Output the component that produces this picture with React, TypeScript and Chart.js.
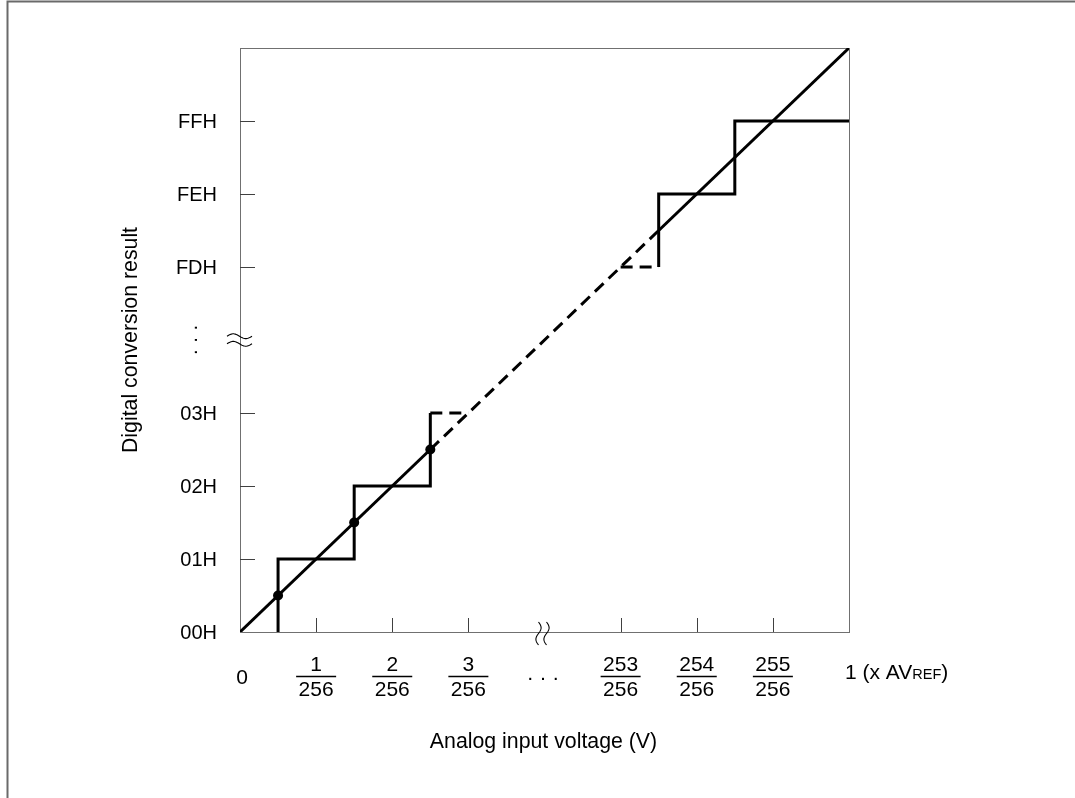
import React, { useEffect, useRef } from 'react';
import { Chart, registerables } from 'chart.js';

Chart.register(...registerables);

// ---- data (axis units: one step per code / per 1/256 of AVREF) ----
const xTickValues = [1, 2, 3, 5, 6, 7];
const xTickNumerators = ['1', '2', '3', '253', '254', '255'];
const xTickDenominator = '256';
const xZeroLabel = '0';
const xEndLabelMain = '1 (x AV';
const xEndLabelSub = 'REF';
const yTickValues = [0, 1, 2, 3, 5, 6, 7];
const yTickLabels = ['00H', '01H', '02H', '03H', 'FDH', 'FEH', 'FFH'];
const breakValue = 4;
const axisMin = 0;
const axisMax = 8;

const idealLowX = [0, 2.5];
const idealLowY = [0, 2.5];
const idealMidX = [2.5, 5.5];
const idealMidY = [2.5, 5.5];
const idealHighX = [5.5, 8];
const idealHighY = [5.5, 8];

const stepLowX = [0.5, 0.5, 1.5, 1.5, 2.5, 2.5];
const stepLowY = [0, 1, 1, 2, 2, 3];
const stepLowDashX = [2.5, 3];
const stepLowDashY = [3, 3];
const stepHighDashX = [5, 5.5];
const stepHighDashY = [5, 5];
const stepHighX = [5.5, 5.5, 6.5, 6.5, 8];
const stepHighY = [5, 6, 6, 7, 7];

const transitionX = [0.5, 1.5, 2.5];
const transitionY = [0.5, 1.5, 2.5];

const xTitle = 'Analog input voltage (V)';
const yTitle = 'Digital conversion result';

const FONT = '"Liberation Sans", Arial, Helvetica, sans-serif';
const INK = '#000000';
const FRAME = '#707070';

const pts = (xs: number[], ys: number[]) => xs.map((x, i) => ({ x, y: ys[i] }));

const lineDs = (xs: number[], ys: number[], dashed: boolean) => ({
  data: pts(xs, ys),
  showLine: true,
  borderColor: INK,
  backgroundColor: INK,
  borderWidth: 3,
  borderDash: dashed ? [12, 7] : [],
  borderCapStyle: 'butt' as const,
  borderJoinStyle: 'miter' as const,
  pointRadius: 0,
  pointHoverRadius: 0,
  tension: 0,
  fill: false,
});

const decorPlugin = {
  id: 'decor',
  beforeDraw(chart: any) {
    const ctx = chart.ctx;
    ctx.save();
    ctx.fillStyle = '#ffffff';
    ctx.fillRect(0, 0, chart.width, chart.height);
    // outer figure border (top and left)
    ctx.strokeStyle = '#6a6a6a';
    ctx.lineWidth = 2;
    ctx.beginPath();
    ctx.moveTo(chart.width + 2, 1.5);
    ctx.lineTo(7.5, 1.5);
    ctx.lineTo(7.5, chart.height + 2);
    ctx.stroke();
    ctx.restore();
  },
  beforeDatasetsDraw(chart: any) {
    const ctx = chart.ctx;
    const { left, right, top, bottom } = chart.chartArea;
    const xs = chart.scales.x;
    const ys = chart.scales.y;
    ctx.save();
    ctx.strokeStyle = FRAME;
    ctx.lineWidth = 1;
    ctx.strokeRect(Math.round(left) + 0.5, Math.round(top) + 0.5, Math.round(right - left), Math.round(bottom - top));
    // inward tick marks
    ctx.strokeStyle = '#404040';
    ctx.beginPath();
    xTickValues.forEach((v) => {
      const px = Math.round(xs.getPixelForValue(v)) + 0.5;
      ctx.moveTo(px, bottom);
      ctx.lineTo(px, bottom - 14);
    });
    yTickValues.forEach((v) => {
      if (v === axisMin) return;
      const py = Math.round(ys.getPixelForValue(v)) + 0.5;
      ctx.moveTo(left, py);
      ctx.lineTo(left + 15, py);
    });
    ctx.stroke();

    // axis break marks
    ctx.strokeStyle = INK;
    ctx.lineWidth = 1.1;
    const bx = xs.getPixelForValue(breakValue) - 2;
    [-4, 4].forEach((off) => {
      ctx.beginPath();
      for (let i = 0; i <= 30; i++) {
        const t = i / 30;
        const x = bx + off + 2.6 * Math.sin(2 * Math.PI * t);
        const y = bottom - 10 + 23 * t;
        if (i === 0) ctx.moveTo(x, y);
        else ctx.lineTo(x, y);
      }
      ctx.stroke();
    });
    const by = ys.getPixelForValue(breakValue);
    [-3.8, 3.8].forEach((off) => {
      ctx.beginPath();
      for (let i = 0; i <= 30; i++) {
        const t = i / 30;
        const x = left - 13 + 25 * t;
        const y = by + off - 2.4 * Math.sin(2 * Math.PI * t);
        if (i === 0) ctx.moveTo(x, y);
        else ctx.lineTo(x, y);
      }
      ctx.stroke();
    });
    ctx.restore();
  },
  afterDraw(chart: any) {
    const ctx = chart.ctx;
    const { left, right, top, bottom } = chart.chartArea;
    const xs = chart.scales.x;
    const ys = chart.scales.y;
    ctx.save();
    ctx.fillStyle = INK;
    ctx.strokeStyle = INK;

    // y tick labels
    ctx.font = `20px ${FONT}`;
    ctx.textAlign = 'right';
    ctx.textBaseline = 'middle';
    yTickValues.forEach((v, i) => {
      ctx.fillText(yTickLabels[i], left - 23, ys.getPixelForValue(v) + 1);
    });
    // vertical ellipsis at y break
    ctx.save();
    ctx.translate(left - 45, ys.getPixelForValue(breakValue));
    ctx.rotate(-Math.PI / 2);
    ctx.textAlign = 'center';
    ctx.fillText('· · ·', 0, 0);
    ctx.restore();

    // x tick labels
    const labelY = bottom + 46;
    ctx.textAlign = 'center';
    ctx.font = `21px ${FONT}`;
    ctx.fillText(xZeroLabel, xs.getPixelForValue(axisMin) + 2, labelY);
    xTickValues.forEach((v, i) => {
      const px = xs.getPixelForValue(v);
      ctx.fillText(xTickNumerators[i], px, labelY - 13);
      ctx.fillText(xTickDenominator, px, labelY + 12);
      ctx.lineWidth = 1.5;
      ctx.beginPath();
      ctx.moveTo(px - 20, labelY - 1.5);
      ctx.lineTo(px + 20, labelY - 1.5);
      ctx.stroke();
    });
    ctx.fillText('· · ·', xs.getPixelForValue(breakValue) - 1.5, labelY);

    // end label "1 (x AVREF)"
    ctx.textAlign = 'left';
    ctx.textBaseline = 'alphabetic';
    const endX = xs.getPixelForValue(axisMax) - 4;
    const base = bottom + 47;
    ctx.font = `21px ${FONT}`;
    ctx.fillText(xEndLabelMain, endX, base);
    let w = ctx.measureText(xEndLabelMain).width;
    ctx.font = `14.5px ${FONT}`;
    ctx.fillText(xEndLabelSub, endX + w, base);
    w += ctx.measureText(xEndLabelSub).width;
    ctx.font = `21px ${FONT}`;
    ctx.fillText(')', endX + w, base);

    // axis titles
    ctx.font = `21.3px ${FONT}`;
    ctx.textAlign = 'center';
    ctx.textBaseline = 'middle';
    ctx.fillText(xTitle, (left + right) / 2 - 1, bottom + 110);
    ctx.save();
    ctx.translate(131, (top + bottom) / 2);
    ctx.rotate(-Math.PI / 2);
    ctx.fillText(yTitle, 0, 0);
    ctx.restore();

    ctx.restore();
  },
};

export default function App() {
  const ref = useRef<HTMLCanvasElement | null>(null);
  useEffect(() => {
    if (!ref.current) return;
    const chart = new Chart(ref.current, {
      type: 'scatter',
      data: {
        datasets: [
          lineDs(idealLowX, idealLowY, false),
          lineDs(idealMidX, idealMidY, true),
          lineDs(idealHighX, idealHighY, false),
          lineDs(stepLowX, stepLowY, false),
          lineDs(stepLowDashX, stepLowDashY, true),
          lineDs(stepHighDashX, stepHighDashY, true),
          lineDs(stepHighX, stepHighY, false),
          {
            data: pts(transitionX, transitionY),
            showLine: false,
            pointRadius: 5,
            pointHoverRadius: 5,
            pointBackgroundColor: INK,
            pointBorderColor: INK,
            borderWidth: 0,
          },
        ] as any,
      },
      options: {
        responsive: false,
        animation: false,
        events: [],
        layout: { padding: { left: 240, top: 48, right: 226, bottom: 166 } },
        plugins: { legend: { display: false }, tooltip: { enabled: false }, title: { display: false } },
        scales: {
          x: { type: 'linear', min: axisMin, max: axisMax, display: false },
          y: { type: 'linear', min: axisMin, max: axisMax, display: false },
        },
      },
      plugins: [decorPlugin],
    });
    return () => chart.destroy();
  }, []);
  return (
    <div style={{ position: 'absolute', left: 0, top: 0, width: 1075, height: 798, background: '#fff' }}>
      <canvas ref={ref} width={1075} height={798} style={{ display: 'block', width: 1075, height: 798 }} />
    </div>
  );
}
